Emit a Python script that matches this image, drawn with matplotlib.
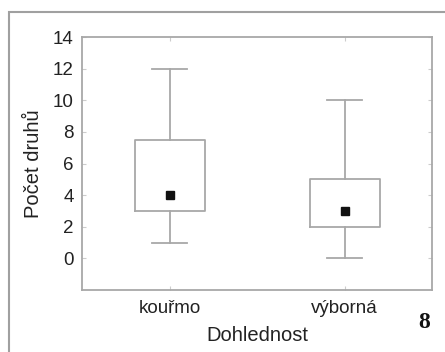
import matplotlib
matplotlib.use("Agg")
import matplotlib.pyplot as plt
from matplotlib.patches import Rectangle

categories = ["kouřmo", "výborná"]
medians = [4, 3]
q1 = [3, 2]
q3 = [7.5, 5]
whisk_lo = [1, 0]
whisk_hi = [12, 10]
yticks = [0, 2, 4, 6, 8, 10, 12, 14]

plt.rcParams['font.family'] = ['Liberation Sans', 'DejaVu Sans']

gray = '#a8a8a8'
fig = plt.figure(figsize=(4.45, 3.52), dpi=100)
ax = fig.add_axes([82/445, 1-290/352, 350/445, 253/352])

positions = [1, 2]
stats = []
for i, c in enumerate(categories):
    stats.append(dict(med=medians[i], q1=q1[i], q3=q3[i], whislo=whisk_lo[i],
                      whishi=whisk_hi[i], fliers=[], label=c))
ax.bxp(stats, positions=positions, widths=0.4, showfliers=False,
       boxprops=dict(color=gray, linewidth=1.3),
       whiskerprops=dict(color=gray, linewidth=1.3),
       capprops=dict(color=gray, linewidth=1.3),
       medianprops=dict(linewidth=0), capwidths=0.2)
ax.plot(positions, medians, 's', color='#111111', markersize=6, zorder=5)

ax.set_xlim(0.5, 2.5)
ax.set_ylim(-2, 14)
ax.set_yticks(yticks)
ax.set_xticks(positions)
ax.set_xticklabels(categories)
for s in ax.spines.values():
    s.set_color(gray)
    s.set_linewidth(1.3)
ax.tick_params(direction='in', length=3, color='#cccccc', top=True, right=True,
               labelsize=13.5, colors='#222222')
ax.tick_params(axis='y', pad=6)
ax.tick_params(axis='x', pad=7)
for lbl in ax.get_xticklabels() + ax.get_yticklabels():
    lbl.set_color('#222222')
ax.set_xlabel("Dohlednost", fontsize=14.5, color='#222222', labelpad=7)
ax.set_ylabel("Počet druhů", fontsize=14.5, color='#222222', labelpad=7)

fig.text(424/445, 1-322/352, "8", fontsize=17, fontweight='bold',
         family=['Liberation Serif', 'DejaVu Serif'], ha='center', va='center',
         color='#111111')

frame = Rectangle((8.5/445, -0.1), 1.2, 1-12/352+0.1, transform=fig.transFigure,
                  fill=False, edgecolor='#a0a0a0', linewidth=1.5)
fig.patches.append(frame)

fig.savefig("out.png", dpi=100)
